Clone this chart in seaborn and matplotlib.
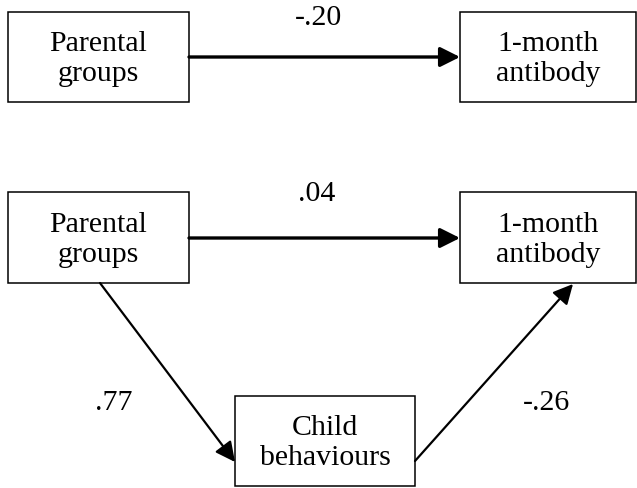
import matplotlib
matplotlib.use("Agg")
import matplotlib.pyplot as plt
from matplotlib.patches import Rectangle, FancyArrowPatch
import seaborn as sns

# path model: nodes and standardised coefficients
node_labels = ["Parental\ngroups", "1-month\nantibody", "Parental\ngroups",
               "1-month\nantibody", "Child\nbehaviours"]
path_from = [0, 2, 2, 4]
path_to = [1, 3, 4, 3]
path_coef = ["-.20", ".04", ".77", "-.26"]

# layout in pixel units (x0, y0, x1, y1)
boxes = [(8, 13, 189, 103), (460, 13, 636, 103),
         (8, 193, 189, 284), (460, 193, 636, 284),
         (235, 397, 415, 487)]
# start / end points of each arrow
ends = [((189, 58), (460, 58)), ((189, 239), (460, 239)),
        ((100, 284), (235, 463)), ((415, 462), (573, 285))]
label_pos = [(319, 18), (317, 194), (114, 403), (547, 403)]
arrow_lw = [2.4, 2.4, 1.6, 1.6]

sns.set_theme(style="white")
plt.rcParams["font.family"] = ["Liberation Serif", "DejaVu Serif"]

fig = plt.figure(figsize=(6.37, 4.89), dpi=100)
ax = fig.add_axes([0, 0, 1, 1])
ax.set_xlim(0, 637)
ax.set_ylim(489, 0)
ax.axis("off")

for (x0, y0, x1, y1), lab in zip(boxes, node_labels):
    ax.add_patch(Rectangle((x0, y0), x1 - x0, y1 - y0, fill=False,
                           edgecolor="black", lw=1.1))
    ax.text((x0 + x1) / 2, (y0 + y1) / 2 + 1, lab, ha="center", va="center",
            fontsize=21.5, linespacing=1.2, color="black")

for (p0, p1), lw in zip(ends, arrow_lw):
    ax.add_patch(FancyArrowPatch(p0, p1, arrowstyle="-|>,head_length=0.6,head_width=0.3",
                                 mutation_scale=20, lw=lw, color="black",
                                 shrinkA=0, shrinkB=0))

for (x, y), c in zip(label_pos, path_coef):
    ax.text(x, y, c, ha="center", va="center", fontsize=21.5, color="black")

fig.savefig("out.png", dpi=100)
plt.close(fig)
